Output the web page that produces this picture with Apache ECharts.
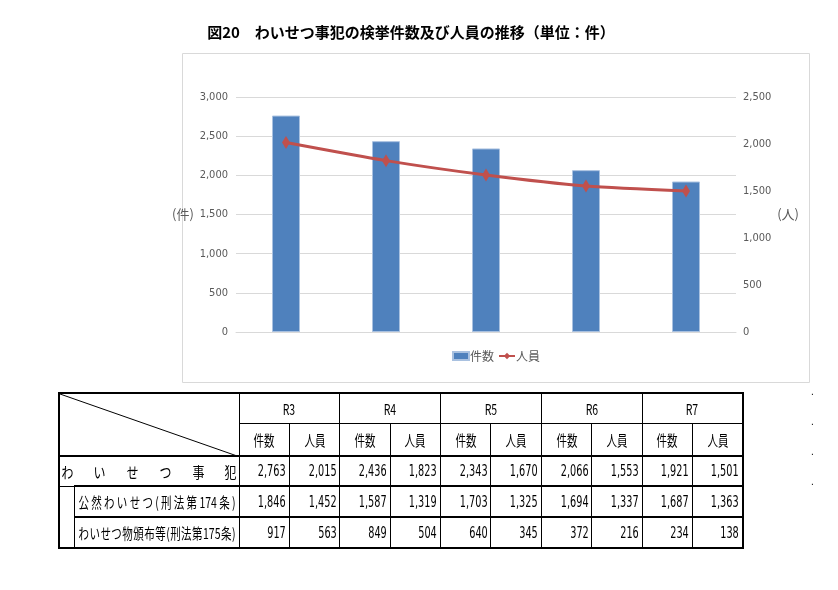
<!DOCTYPE html>
<html>
<head>
<meta charset="UTF-8">
<title>図20</title>
<script src="https://cdn.jsdelivr.net/npm/echarts@6/dist/echarts.min.js"></script>
<style>
body{margin:0;background:#fff;}
#wrap{position:relative;width:838px;height:590px;}
#main{position:absolute;left:0;top:0;width:838px;height:590px;}
#tbl{position:absolute;left:58px;top:392px;width:684px;border-collapse:collapse;font-family:"Noto Sans CJK JP",sans-serif;font-size:15px;color:#000;table-layout:fixed;}
#tbl td{border:1px solid #000;padding:0;text-align:center;overflow:hidden;}
#tbl .num{text-align:right;padding-right:3px;font-family:"DejaVu Sans Condensed","Liberation Sans",sans-serif;}
.sq{display:inline-block;transform:scaleX(0.72);transform-origin:right center;white-space:nowrap;}
.sqc{display:inline-block;transform:scaleX(0.7);white-space:nowrap;}
.spread{display:flex;justify-content:space-between;align-items:center;box-sizing:border-box;padding:0 7px;}
.spread i{font-style:normal;width:0;display:flex;justify-content:center;}
.spread span{display:inline-block;transform:scaleX(0.8);white-space:nowrap;}
.packed{display:flex;justify-content:space-between;align-items:center;box-sizing:border-box;padding:0 3px 0 4px;font-size:10.5px;}
.packed span{display:inline-block;transform:scaleY(1.4);white-space:nowrap;}
.dot{position:absolute;left:811px;font-size:10px;font-family:"Liberation Sans";}
</style>
</head>
<body>
<div id="wrap">
<div id="main"></div>
<table id="tbl"></table>
<span class="dot" style="top:386px">.</span>
<span class="dot" style="top:416px">.</span>
<span class="dot" style="top:446px">.</span>
<span class="dot" style="top:476px">.</span>
</div>
<script type="text/javascript">
// 年次
var years = ['R3','R4','R5','R6','R7'];
// わいせつ事犯 件数・人員
var kensu = [2763,2436,2343,2066,1921];
var jinin = [2015,1823,1670,1553,1501];
// 公然わいせつ（刑法第174条）
var kozenKensu = [1846,1587,1703,1694,1687];
var kozenJinin = [1452,1319,1325,1337,1363];
// わいせつ物頒布等（刑法第175条）
var hanpuKensu = [917,849,640,372,234];
var hanpuJinin = [563,504,345,216,138];

var fmt = function(v){ return v.toLocaleString('en-US'); };
var labelFont = '"DejaVu Sans Condensed", "Liberation Sans", sans-serif';

var myChart = echarts.init(document.getElementById('main'));
var option = {
	animation:false,
	title:{
		text:'図20　わいせつ事犯の検挙件数及び人員の推移（単位：件）',
		left:406,
		top:20,
		textAlign:'center',
		textStyle:{fontSize:15,fontWeight:'bold',color:'#000',fontFamily:'Noto Sans CJK JP'}
	},
	graphic:[{
		type:'rect',
		shape:{x:182.5,y:53.5,width:627,height:329},
		style:{fill:'none',stroke:'#d9d9d9',lineWidth:1},
		z:-10
	}],
	legend:{
		left:447,
		top:345,
		itemWidth:16,
		itemHeight:8,
		itemGap:4,
		textStyle:{fontSize:12,color:'#595959',fontFamily:'Noto Sans CJK JP',padding:[0,0,0,-4]},
		data:[{name:'件数',icon:'rect'},{name:'人員'}]
	},
	grid:{left:236,right:102,top:97,bottom:258},
	xAxis:{
		type:'category',
		data:years,
		axisLine:{show:true,lineStyle:{color:'#d9d9d9'}},
		axisTick:{show:false},
		axisLabel:{show:false}
	},
	yAxis:[
		{
			type:'value',min:0,max:3000,interval:500,
			name:'(件)',nameLocation:'middle',nameRotate:0,nameGap:30,
			nameTextStyle:{fontSize:13,color:'#595959',fontFamily:'Noto Sans CJK JP'},
			axisLine:{show:false},axisTick:{show:false},
			axisLabel:{formatter:fmt,fontSize:11,color:'#595959',fontFamily:labelFont,margin:8},
			splitLine:{lineStyle:{color:'#d9d9d9'}}
		},
		{
			type:'value',min:0,max:2500,interval:500,
			name:'(人)',nameLocation:'middle',nameRotate:0,nameGap:29,
			nameTextStyle:{fontSize:13,color:'#595959',fontFamily:'Noto Sans CJK JP'},
			axisLine:{show:false},axisTick:{show:false},
			axisLabel:{formatter:fmt,fontSize:11,color:'#595959',fontFamily:labelFont,margin:7},
			splitLine:{show:false}
		}
	],
	series:[
		{
			name:'件数',type:'bar',data:kensu,barWidth:28,
			itemStyle:{color:'#4f81bd',borderColor:'#a9c1e0',borderWidth:1}
		},
		{
			name:'人員',type:'line',yAxisIndex:1,data:jinin,smooth:0.25,
			symbol:'diamond',symbolSize:[8,13],
			lineStyle:{color:'#c0504d',width:3},
			itemStyle:{color:'#c0504d'}
		}
	]
};
myChart.setOption(option);

// 表
function spread(tokens, width){
	return '<div class="spread" style="width:' + width + 'px">' +
		tokens.map(function(c){ return '<i><span>' + c + '</span></i>'; }).join('') + '</div>';
}
function packed(tokens, width){
	return '<div class="packed" style="width:' + width + 'px">' +
		tokens.map(function(c){ return '<span>' + c + '</span>'; }).join('') + '</div>';
}
var tbl = document.getElementById('tbl');
var html = '<colgroup><col style="width:15px"><col style="width:165px">';
for (var i = 0; i < 10; i++) html += '<col style="width:50.4px">';
html += '</colgroup>';
html += '<tr style="height:30px"><td colspan="2" rowspan="2" style="position:relative;border-left:2px solid #000;border-top:2px solid #000;">' +
	'<svg width="180" height="63" style="position:absolute;left:0;top:0"><line x1="0" y1="0" x2="180" y2="63" stroke="#000" stroke-width="1"/></svg></td>';
years.forEach(function(y, i){
	html += '<td colspan="2" style="border-top:2px solid #000;' + (i === years.length - 1 ? 'border-right:2px solid #000;' : '') + '"><span class="sqc">' + y + '</span></td>';
});
html += '</tr><tr style="height:33px">';
years.forEach(function(y, i){
	html += '<td><span class="sqc">件数</span></td><td' + (i === years.length - 1 ? ' style="border-right:2px solid #000"' : '') + '><span class="sqc">人員</span></td>';
});
html += '</tr>';
function dataRow(label, a, b, h, first, last){
	var s = '<tr style="height:' + h + 'px">';
	if (first) {
		s += '<td colspan="2" style="border-left:2px solid #000;border-top:2px solid #000;">' + label + '</td>';
	} else {
		s += label;
	}
	for (var i = 0; i < a.length; i++) {
		var bb = last ? 'border-bottom:2px solid #000;' : '';
		s += '<td class="num" style="border-top:2px solid #000;' + bb + '"><span class="sq">' + fmt(a[i]) + '</span></td>';
		s += '<td class="num" style="border-top:2px solid #000;' + bb + (i === a.length - 1 ? 'border-right:2px solid #000;' : '') + '"><span class="sq">' + fmt(b[i]) + '</span></td>';
	}
	return s + '</tr>';
}
html += dataRow(spread(['わ','い','せ','つ','事','犯'], 178), kensu, jinin, 30, true, false);
html += dataRow('<td rowspan="2" style="border-left:2px solid #000;border-bottom:2px solid #000;border-top:none;"></td>' +
	'<td style="border-top:2px solid #000;">' +
	packed(['公','然','わ','い','せ','つ','(','刑','法','第','174','条',')'], 164) + '</td>',
	kozenKensu, kozenJinin, 31, false, false);
html += dataRow('<td style="border-top:2px solid #000;border-bottom:2px solid #000;">' +
	packed(['わ','い','せ','つ','物','頒','布','等','(','刑','法','第','175','条',')'], 164) + '</td>',
	hanpuKensu, hanpuJinin, 31, false, true);
tbl.innerHTML = html;
</script>
</body>
</html>
